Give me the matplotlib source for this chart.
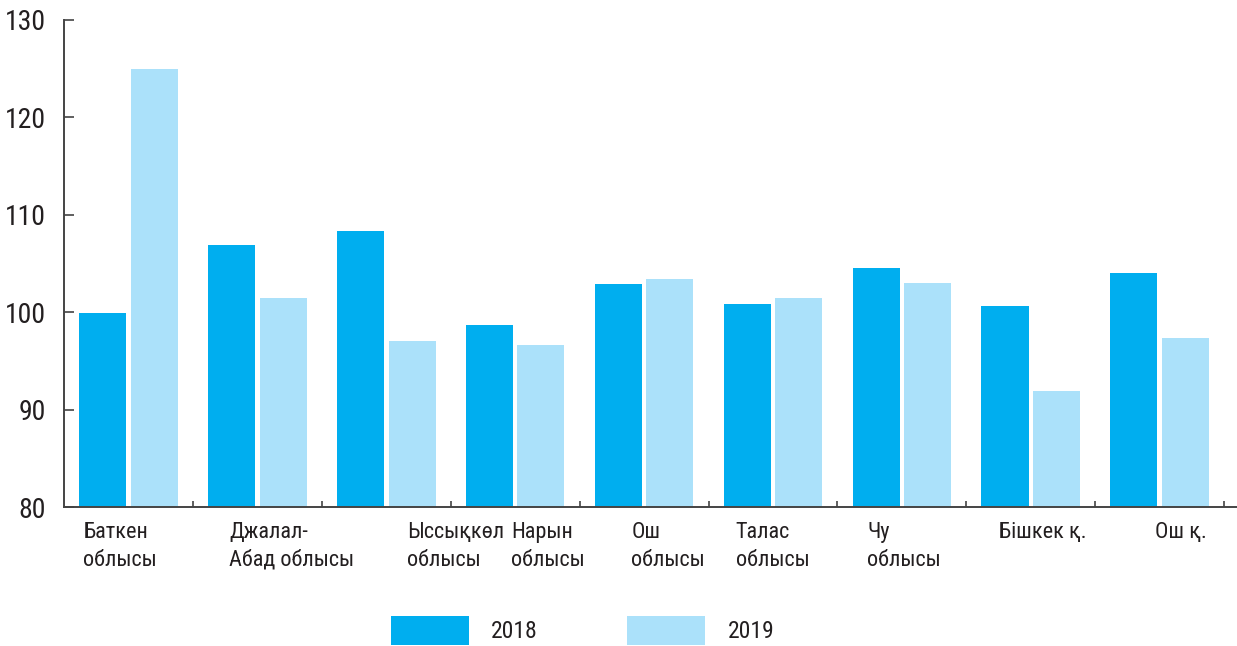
import numpy as np
import matplotlib
matplotlib.use('Agg')
import matplotlib.pyplot as plt
from matplotlib import font_manager

# Data
regions = ['Баткен\nоблысы', 'Джалал-\nАбад облысы', 'Ыссықкөл\nоблысы', 'Нарын\nоблысы',
           'Ош\nоблысы', 'Талас\nоблысы', 'Чу\nоблысы', 'Бішкек қ.', 'Ош қ.']
v2018 = [99.9, 106.9, 108.3, 98.7, 102.9, 100.8, 104.5, 100.6, 104.0]
v2019 = [125.0, 101.5, 97.0, 96.6, 103.4, 101.5, 103.0, 91.9, 97.3]
series = ['2018', '2019']
yticks = [80, 90, 100, 110, 120, 130]

# font: prefer a narrow face if present
names = {f.name for f in font_manager.fontManager.ttflist}
fam = [f for f in ['Roboto Condensed', 'Liberation Sans Narrow', 'Open Sans', 'Noto Sans'] if f in names]
plt.rcParams['font.family'] = fam + ['DejaVu Sans']

c18 = '#00aeef'
c19 = '#abe1fa'
txt = '#231f20'

fig = plt.figure(figsize=(12.37, 6.46), dpi=100)
ax = fig.add_axes([64 / 1237, 1 - 507 / 646, 1 - 64 / 1237, 487 / 646])

x = np.arange(len(regions))
w = 0.365
b1 = ax.bar(x - 0.2, np.array(v2018) - 80, w, bottom=80, color=c18, label=series[0])
b2 = ax.bar(x + 0.2, np.array(v2019) - 80, w, bottom=80, color=c19, label=series[1])

ax.set_ylim(80, 130)
ax.set_xlim(-0.5, 8.6)
ax.set_yticks(yticks)
ax.set_yticklabels([str(t) for t in yticks], fontsize=20, color=txt)
ax.set_xticks(np.arange(0.5, 9, 1))
ax.set_xticklabels([])
ax.tick_params(axis='y', direction='in', length=7, width=1.2, color='#444444', pad=13)
ax.tick_params(axis='x', direction='in', length=4, width=1.2, color='#444444')
for s in ['top', 'right']:
    ax.spines[s].set_visible(False)
for s in ['left', 'bottom']:
    ax.spines[s].set_color('#444444')
    ax.spines[s].set_linewidth(1.4)

# category labels, placed left-aligned like the source layout
offs = [-0.35, -0.22, 0.16, -0.03, -0.10, -0.29, -0.27, -0.25, -0.04]
for i, lab in enumerate(regions):
    ax.text(i + offs[i], -0.03, lab, transform=ax.get_xaxis_transform(), ha='left', va='top',
            fontsize=16, color=txt, linespacing=1.45)

# legend at the bottom edge
fig.legend(handles=[b1, b2], labels=series, loc='center', bbox_to_anchor=(0.471, 0.024), ncol=2,
           frameon=False, fontsize=17, handlelength=3.3, handleheight=1.5, columnspacing=3.8,
           handletextpad=0.95, labelcolor=txt, borderpad=0)

fig.savefig('out.png', dpi=100)
